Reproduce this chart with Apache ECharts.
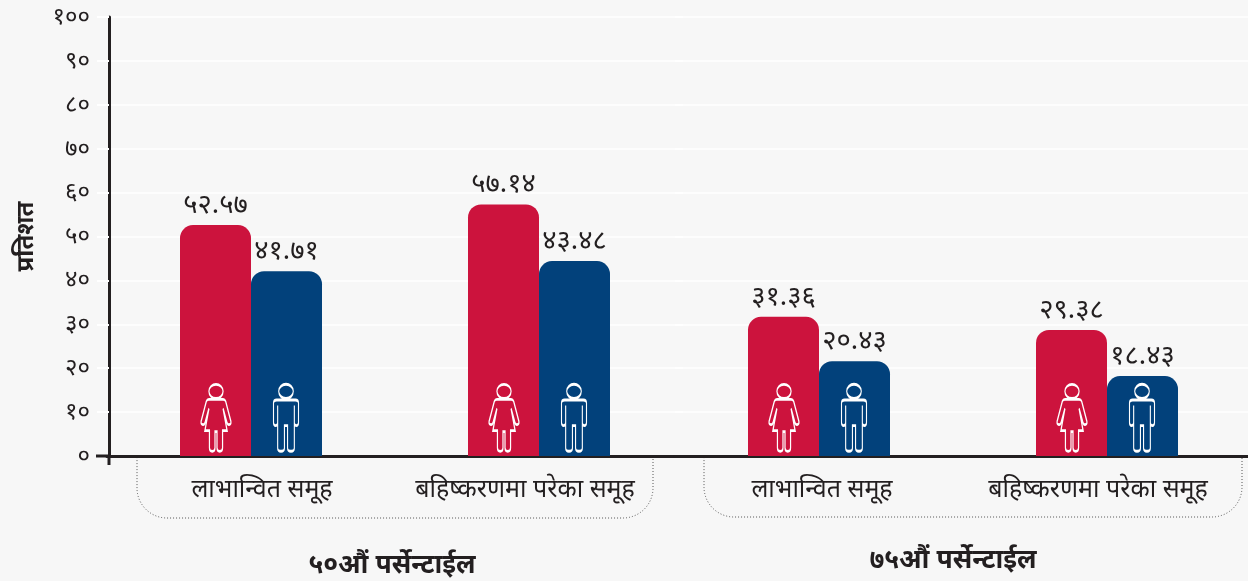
<!DOCTYPE html>
<html><head><meta charset="utf-8">
<style>html,body{margin:0;padding:0;background:#f7f7f7}#c{width:1248px;height:581px}</style>
<script src="https://cdn.jsdelivr.net/npm/echarts@6/dist/echarts.min.js"></script>
</head><body><div id="c"></div>
<script>
const categories = ['लाभान्वित समूह', 'बहिष्करणमा परेका समूह'];
// Values as printed on the chart
const female50 = [52.57, 57.14];
const male50 = [41.71, 43.48];
const female75 = [31.36, 29.38];
const male75 = [20.43, 18.43];
// Bar heights as actually drawn in the reference (it differs slightly from its printed labels)
const female50Drawn = [52.6, 57.3];
const male50Drawn = [42.1, 44.4];
const female75Drawn = [31.7, 28.7];
const male75Drawn = [21.6, 18.2];
const groupTitles = ['५०औं पर्सेन्टाईल', '७५औं पर्सेन्टाईल'];
const yTitle = 'प्रतिशत';
const iconLevel = [8.7, 8.7];

const FONT = '"Noto Sans", "Noto Sans Devanagari", "Lohit Devanagari", sans-serif';
const INK = '#231f20', RED = '#cc133d', BLUE = '#02417b', BG = '#f7f7f7';
const digits = '०१२३४५६७८९';
const deva = v => String(v).replace(/\d/g, d => digits[+d]);
const woman = 'path://M15 0C18.9 0 22 3.1 22 7S18.9 14 15 14 8 10.9 8 7 11.1 0 15 0Z' +
  'M8 15H22Q24 15 24.6 17L29.8 37Q30.2 39.5 28 40 26.6 40.3 26 38.5L22 24 26 46H21.5V63Q21.5 66.5 18.7 66.5 16 66.5 16 63V47H14V63Q14 66.5 11.3 66.5 8.5 66.5 8.5 63V46H4L8 24 4 38.5Q3.4 40.3 2 40-.2 39.5 .2 37L5.4 17Q6 15 8 15Z';
const man = 'path://M13 0C16.9 0 20 3.1 20 7S16.9 14 13 14 6 10.9 6 7 9.1 0 13 0Z' +
  'M5 21V63.5Q5 66.5 8.2 66.5 11.5 66.5 11.5 63.5V41H14.5V63.5Q14.5 66.5 17.8 66.5 21 66.5 21 63.5V21' +
  'M5 38Q5 41 3 41 1 41 1 38V18.5Q1 15.5 4 15.5H22Q25 15.5 25 18.5V38Q25 41 23 41 21 41 21 38';

function barSeries(name, heights, printed, color, g) {
  return { name, type: 'bar', data: heights, xAxisIndex: g, yAxisIndex: g, barWidth: 71, barGap: 0,
    itemStyle: { color, borderRadius: [13, 13, 0, 0] },
    label: { show: true, position: 'top', distance: 6, color: INK, fontFamily: FONT, fontSize: 27.5,
      formatter: p => deva(printed[p.dataIndex].toFixed(2)) } };
}
function iconSeries(icon, size, g, dx) {
  return { type: 'scatter', data: iconLevel, xAxisIndex: g, yAxisIndex: g, symbol: icon, symbolSize: size,
    symbolOffset: [dx, 0], silent: true, z: 5,
    itemStyle: { color: 'rgba(0,0,0,0)', borderColor: '#fff', borderWidth: 1.8, opacity: 1 } };
}
function xAxis(g, shifts) {
  return { gridIndex: g, type: 'category',
    data: categories.map((value, i) => ({ value, textStyle: {
      padding: shifts[i] > 0 ? [0, 0, 0, shifts[i] * 2] : [0, -shifts[i] * 2, 0, 0] } })),
    axisTick: { show: false },
    axisLine: { lineStyle: { color: INK, width: 3 } },
    axisLabel: { color: INK, fontFamily: FONT, fontSize: 25, margin: 21, interval: 0 } };
}
function bracket(x, w, y2) {
  return { type: 'rect', z: -1, shape: { x, y: 456, width: w, height: y2 - 456, r: [0, 0, 30, 30] },
    style: { fill: 'none', stroke: '#555', lineWidth: 1, lineDash: [1, 2] } };
}
const chart = echarts.init(document.getElementById('c'));
chart.setOption({
  backgroundColor: BG, animation: false,
  grid: [
    { left: 107, width: 576, top: 17, bottom: 125, outerBoundsMode: 'none' },
    { left: 675, width: 576, top: 17, bottom: 125, outerBoundsMode: 'none' }
  ],
  xAxis: [xAxis(0, [11, -14]), xAxis(1, [3, -9])],
  yAxis: [
    { gridIndex: 0, type: 'value', min: 0, max: 100, interval: 10, offset: -2,
      axisLine: { show: true, lineStyle: { color: INK, width: 3 } },
      axisTick: { show: true, length: 12, lineStyle: { color: '#fff', width: 2 } },
      splitLine: { lineStyle: { color: '#fff', width: 1.5 } },
      axisLabel: { color: INK, fontFamily: FONT, fontSize: 24, margin: 19, padding: [6, 0, 0, 0], formatter: deva },
      name: yTitle, nameLocation: 'middle', nameGap: 71, nameRotate: 90,
      nameTextStyle: { color: INK, fontFamily: FONT, fontSize: 24, fontWeight: 'bold' } },
    { gridIndex: 1, type: 'value', min: 0, max: 100, interval: 10,
      axisLine: { show: false }, axisTick: { show: false }, axisLabel: { show: false },
      splitLine: { lineStyle: { color: '#fff', width: 1.5 } } }
  ],
  series: [
    barSeries('महिला', female50Drawn, female50, RED, 0), barSeries('पुरुष', male50Drawn, male50, BLUE, 0),
    barSeries('महिला', female75Drawn, female75, RED, 1), barSeries('पुरुष', male75Drawn, male75, BLUE, 1),
    iconSeries(woman, [30, 67], 0, -35), iconSeries(man, [25, 67], 0, 35),
    iconSeries(woman, [30, 67], 1, -35), iconSeries(man, [25, 67], 1, 35)
  ],
  graphic: [
    bracket(137, 516, 518), bracket(704, 538, 517),
    { type: 'line', z: 10, shape: { x1: 96, y1: 456, x2: 109, y2: 456 }, style: { stroke: INK, lineWidth: 3 } },
    { type: 'line', z: 10, shape: { x1: 109, y1: 456, x2: 109, y2: 465 }, style: { stroke: INK, lineWidth: 3 } },
    { type: 'text', z: 10, style: { x: 392, y: 565, text: groupTitles[0], align: 'center', verticalAlign: 'middle', fill: INK, font: 'bold 26.5px ' + FONT } },
    { type: 'text', z: 10, style: { x: 953, y: 560, text: groupTitles[1], align: 'center', verticalAlign: 'middle', fill: INK, font: 'bold 26.5px ' + FONT } }
  ]
});
</script></body></html>
